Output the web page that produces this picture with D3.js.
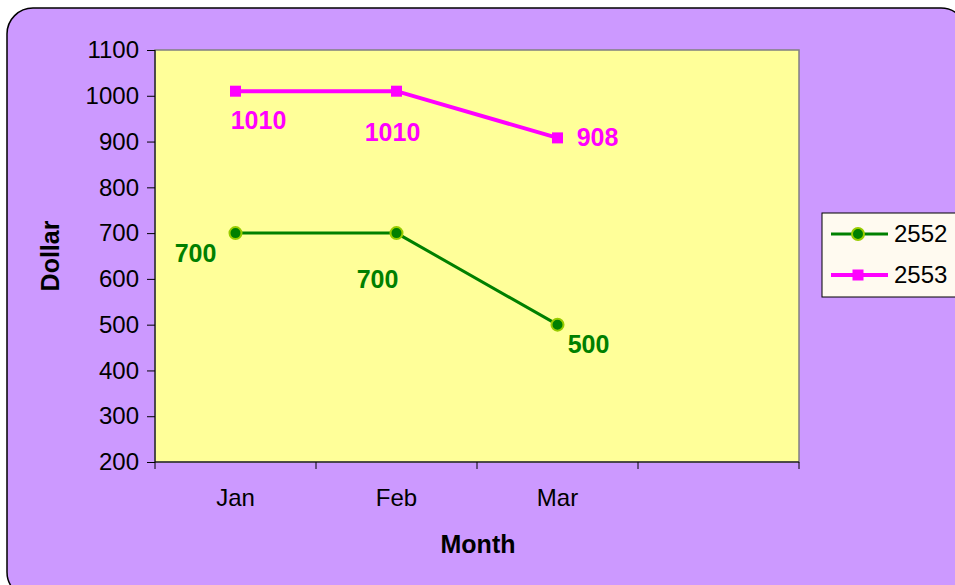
<!DOCTYPE html>
<html>
<head>
<meta charset="utf-8">
<script src="https://cdn.jsdelivr.net/npm/d3@7"></script>
<style>
  body { margin: 0; background: #fff; }
  text { font-family: Arial, "Liberation Sans", sans-serif; }
</style>
</head>
<body>
<svg id="chart" width="955" height="585"></svg>
<script>
// Data
var months = ["Jan", "Feb", "Mar", ""];
var series = ["2552", "2553"];
var values2552 = [700, 700, 500];
var values2553 = [1010, 1010, 908];
var yTicks = [200, 300, 400, 500, 600, 700, 800, 900, 1000, 1100];

var width = 955, height = 585;
var plot = {left: 155, top: 50, right: 799, bottom: 462};

var svg = d3.select("#chart");

// background frame
svg.append("rect")
  .attr("x", 7).attr("y", 8)
  .attr("width", 960).attr("height", 590)
  .attr("rx", 26).attr("ry", 26)
  .attr("fill", "#cc99ff")
  .attr("stroke", "#000").attr("stroke-width", 1.5);

// Scales
var xScale = d3.scaleBand().domain(months).range([plot.left, plot.right]);
var yScale = d3.scaleLinear().domain([200, 1100]).range([plot.bottom, plot.top]);

// plot area
svg.append("rect")
  .attr("x", plot.left).attr("y", plot.top)
  .attr("width", plot.right - plot.left).attr("height", plot.bottom - plot.top)
  .attr("fill", "#ffff99")
  .attr("stroke", "#808080").attr("stroke-width", 1.5);

// Axes
var yAxis = d3.axisLeft(yScale).tickValues(yTicks).tickFormat(d3.format("d"))
  .tickSize(8).tickPadding(8);
var gy = svg.append("g").attr("transform", "translate(" + plot.left + ",0)").call(yAxis);
gy.attr("font-size", null).attr("font-family", null);
gy.select(".domain").attr("d", "M0," + plot.top + "V" + plot.bottom);
gy.selectAll("text").style("font-size", "24px").attr("fill", "#000");
gy.selectAll("line, path").attr("stroke", "#000");

var gx = svg.append("g").attr("transform", "translate(0," + plot.bottom + ")");
gx.append("line")
  .attr("x1", plot.left).attr("x2", plot.right)
  .attr("stroke", "#000");
gx.selectAll(".tk")
  .data(months.concat(["end"]))
  .enter().append("line")
  .attr("x1", function(d, i) { return i < months.length ? xScale(d) : plot.right; })
  .attr("x2", function(d, i) { return i < months.length ? xScale(d) : plot.right; })
  .attr("y1", 0).attr("y2", 7)
  .attr("stroke", "#000");
gx.selectAll(".lbl")
  .data(months)
  .enter().append("text")
  .attr("x", function(d) { return xScale(d) + xScale.bandwidth() / 2; })
  .attr("y", 44)
  .attr("text-anchor", "middle")
  .style("font-size", "24px")
  .attr("fill", "#000")
  .text(function(d) { return d; });

// axis titles
svg.append("text")
  .attr("x", 478).attr("y", 553)
  .attr("text-anchor", "middle")
  .style("font-size", "25px").attr("font-weight", "bold")
  .text("Month");
svg.append("text")
  .attr("transform", "translate(59," + ((plot.top + plot.bottom) / 2) + ") rotate(-90)")
  .attr("text-anchor", "middle")
  .style("font-size", "25px").attr("font-weight", "bold")
  .text("Dollar");

var cx = function(i) { return xScale(months[i]) + xScale.bandwidth() / 2; };
var line = d3.line()
  .x(function(d, i) { return cx(i); })
  .y(function(d) { return yScale(d); });

// 2553 series
svg.append("path")
  .datum(values2553)
  .attr("d", line)
  .attr("fill", "none")
  .attr("stroke", "#ff00ff").attr("stroke-width", 4);
svg.selectAll(".sq")
  .data(values2553)
  .enter().append("rect")
  .attr("x", function(d, i) { return cx(i) - 5.5; })
  .attr("y", function(d) { return yScale(d) - 5.5; })
  .attr("width", 11).attr("height", 11)
  .attr("fill", "#ff00ff");

// 2552 series
svg.append("path")
  .datum(values2552)
  .attr("d", line)
  .attr("fill", "none")
  .attr("stroke", "#008000").attr("stroke-width", 3);
svg.selectAll(".dot")
  .data(values2552)
  .enter().append("circle")
  .attr("cx", function(d, i) { return cx(i); })
  .attr("cy", function(d) { return yScale(d); })
  .attr("r", 6)
  .attr("fill", "#008000")
  .attr("stroke", "#99cc00").attr("stroke-width", 2);

// data labels (offsets from the point, as placed in the original)
var off2553 = [[23, 38], [-4, 50], [40, 8]];
var off2552 = [[-40, 29], [-19, 55], [31, 28]];
svg.selectAll(".lb3")
  .data(values2553)
  .enter().append("text")
  .attr("x", function(d, i) { return cx(i) + off2553[i][0]; })
  .attr("y", function(d, i) { return yScale(d) + off2553[i][1]; })
  .attr("text-anchor", "middle")
  .style("font-size", "25px").attr("font-weight", "bold")
  .attr("fill", "#ff00ff")
  .text(function(d) { return d; });
svg.selectAll(".lb2")
  .data(values2552)
  .enter().append("text")
  .attr("x", function(d, i) { return cx(i) + off2552[i][0]; })
  .attr("y", function(d, i) { return yScale(d) + off2552[i][1]; })
  .attr("text-anchor", "middle")
  .style("font-size", "25px").attr("font-weight", "bold")
  .attr("fill", "#008000")
  .text(function(d) { return d; });

// Legend
var legend = svg.append("g");
legend.append("rect")
  .attr("x", 822).attr("y", 213)
  .attr("width", 150).attr("height", 84)
  .attr("fill", "#fffaf0")
  .attr("stroke", "#000").attr("stroke-width", 1);
var legColors = ["#008000", "#ff00ff"];
series.forEach(function(s, i) {
  var y = 234 + i * 41;
  legend.append("line")
    .attr("x1", 831).attr("x2", 888)
    .attr("y1", y).attr("y2", y)
    .attr("stroke", legColors[i]).attr("stroke-width", i === 0 ? 3 : 4);
  if (i === 0) {
    legend.append("circle")
      .attr("cx", 858).attr("cy", y).attr("r", 6)
      .attr("fill", "#008000").attr("stroke", "#99cc00").attr("stroke-width", 2);
  } else {
    legend.append("rect")
      .attr("x", 852.5).attr("y", y - 5.5)
      .attr("width", 11).attr("height", 11)
      .attr("fill", "#ff00ff");
  }
  legend.append("text")
    .attr("x", 894).attr("y", y + 8)
    .style("font-size", "24px")
    .text(s);
});
</script>
</body>
</html>
